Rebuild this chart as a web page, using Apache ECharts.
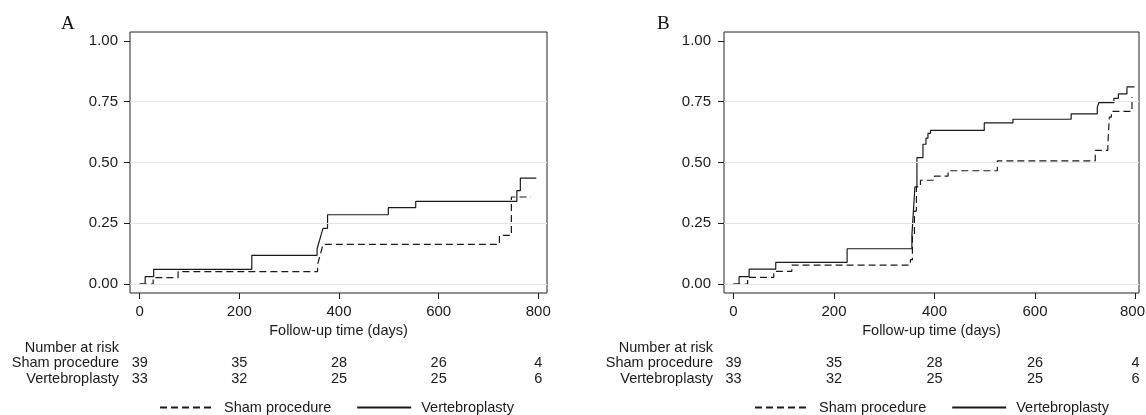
<!DOCTYPE html>
<html><head><meta charset="utf-8">
<script src="https://cdn.jsdelivr.net/npm/echarts@6/dist/echarts.min.js"></script>
<style>html,body{margin:0;padding:0;background:#fff}#c{width:1146px;height:415px}</style>
</head><body><div id="c"></div>
<script>
// ---- data ----
const xTicks = [0, 200, 400, 600, 800];
const yTicks = [0, 0.25, 0.5, 0.75, 1];
const gridLines = [0, 0.25, 0.5, 0.75];
const seriesNames = ['Sham procedure', 'Vertebroplasty'];
const panelLabels = ['A', 'B'];
const xTitle = 'Follow-up time (days)';
const riskTitle = 'Number at risk';

// Panel A (days, cumulative probability)
const shamA = [[0,0],[27,0.026],[77,0.051],[357,0.08],[361,0.11],[365,0.14],[368,0.163],[722,0.20],[746,0.358],[785,0.358]];
const vertA = [[0,0],[11,0.030],[28,0.0606],[225,0.118],[356,0.145],[360,0.173],[364,0.202],[368,0.229],[377,0.285],[499,0.314],[554,0.340],[757,0.384],[764,0.436],[796,0.436]];
const riskShamA = [39, 35, 28, 26, 4];
const riskVertA = [33, 32, 25, 25, 6];

// Panel B
const shamB = [[0,0],[28,0.027],[80,0.052],[116,0.078],[352,0.10],[356,0.20],[360,0.30],[364,0.40],[372,0.427],[400,0.444],[427,0.466],[525,0.507],[720,0.55],[745,0.573],[748,0.687],[752,0.71],[793,0.77]];
const vertB = [[0,0],[11,0.03],[31,0.061],[84,0.089],[226,0.145],[355,0.20],[358,0.30],[361,0.40],[365,0.52],[377,0.575],[383,0.60],[387,0.62],[392,0.632],[499,0.663],[556,0.678],[672,0.70],[724,0.728],[727,0.746],[757,0.764],[766,0.782],[783,0.811],[798,0.811]];
const riskShamB = [39, 35, 28, 26, 4];
const riskVertB = [33, 32, 25, 25, 6];

// ---- layout / style ----
const FONT = '"Liberation Sans", Arial, sans-serif';
const TXT = '#1a1a1a';
const panels = [
  {left: 130, width: 417, xmin: -19.5, xmax: 817.5, sham: shamA, vert: vertA, rS: riskShamA, rV: riskVertA, ym: 12, legLeft: 159, labX: 61, lastPad: 0},
  {left: 724, width: 415, xmin: -19, xmax: 807, sham: shamB, vert: vertB, rS: riskShamB, rV: riskVertB, ym: 13, legLeft: 754, labX: 657, lastPad: 6}
];
const TOP = 32, H = 261;

const grid = [], xAxis = [], yAxis = [], series = [], legend = [], graphic = [];
panels.forEach((p, g) => {
  grid.push({left: p.left, top: TOP, width: p.width, height: H, show: true, borderColor: '#222', borderWidth: 1, backgroundColor: 'transparent', containLabel: false, outerBoundsMode: 'none'});
  const base = {gridIndex: g, type: 'value', min: p.xmin, max: p.xmax, position: 'bottom', splitLine: {show: false}, axisLine: {show: false, onZero: false}};
  const last = xTicks[xTicks.length - 1];
  xAxis.push(Object.assign({}, base, {
    axisTick: {show: true, inside: false, customValues: xTicks, length: 6, lineStyle: {color: TXT, width: 1}},
    axisLabel: {customValues: xTicks, fontSize: 15, fontFamily: FONT, color: TXT, margin: 11,
      formatter: v => (v === last && p.lastPad) ? '{r|' + v + '}' : String(v),
      rich: {r: {fontSize: 15, fontFamily: FONT, color: TXT, padding: [0, p.lastPad, 0, 0]}}},
    name: xTitle, nameLocation: 'middle', nameGap: 27,
    nameTextStyle: {fontSize: 14.5, fontFamily: FONT, color: TXT}
  }));
  xAxis.push(Object.assign({}, base, {
    offset: 55, axisTick: {show: false}, axisLabel: {show: false},
    name: riskTitle, nameLocation: 'start', nameGap: 11,
    nameTextStyle: {fontSize: 14.5, fontFamily: FONT, color: TXT}
  }));
  [[p.rS, seriesNames[0], 70], [p.rV, seriesNames[1], 86]].forEach(([arr, nm, off]) => {
    xAxis.push(Object.assign({}, base, {
      offset: off, axisTick: {show: false},
      axisLabel: {customValues: xTicks, formatter: v => String(arr[xTicks.indexOf(v)]), verticalAlign: 'middle', margin: 0, fontSize: 14.5, fontFamily: FONT, color: TXT},
      name: nm, nameLocation: 'start', nameGap: 11,
      nameTextStyle: {fontSize: 14.5, fontFamily: FONT, color: TXT}
    }));
  });
  yAxis.push({gridIndex: g, type: 'value', min: -0.037, max: 1.037, splitLine: {show: false}, axisLine: {show: false, onZero: false},
    axisTick: {show: true, inside: false, customValues: yTicks, length: 6, lineStyle: {color: TXT, width: 1}},
    axisLabel: {customValues: yTicks, formatter: v => v.toFixed(2), fontSize: 15, fontFamily: FONT, color: TXT, margin: p.ym}
  });
  const xi = g * 4;
  series.push({type: 'line', name: '_grid' + g, xAxisIndex: xi, yAxisIndex: g, data: [], silent: true, z: 1,
    markLine: {silent: true, symbol: 'none', label: {show: false}, lineStyle: {color: '#e4e4e4', width: 1.2, type: 'solid'},
      emphasis: {disabled: true}, animation: false, data: gridLines.map(v => ({yAxis: v}))}});
  series.push({type: 'line', name: seriesNames[0], xAxisIndex: xi, yAxisIndex: g, data: p.sham, step: 'end', symbol: 'none', showSymbol: false, z: 3,
    lineStyle: {color: '#1a1a1a', width: 1.2, type: [7, 4]}, itemStyle: {color: '#1a1a1a'}, animation: false});
  series.push({type: 'line', name: seriesNames[1], xAxisIndex: xi, yAxisIndex: g, data: p.vert, step: 'end', symbol: 'none', showSymbol: false, z: 3,
    lineStyle: {color: '#1a1a1a', width: 1.2, type: 'solid'}, itemStyle: {color: '#1a1a1a'}, animation: false});
  legend.push({data: seriesNames, left: p.legLeft, top: 400, orient: 'horizontal', itemWidth: 54, itemHeight: 14, itemGap: 25, padding: 0,
    selectedMode: false, itemStyle: {opacity: 0, color: 'rgba(0,0,0,0)', borderWidth: 0},
    textStyle: {fontSize: 14.5, fontFamily: FONT, color: TXT, padding: [0, 0, 0, 5]}});
  graphic.push({type: 'text', left: p.labX, top: 15, style: {text: panelLabels[g], font: '19px "Liberation Serif", "Times New Roman", serif', fill: '#111'}});
});

const chart = echarts.init(document.getElementById('c'));
chart.setOption({animation: false, backgroundColor: '#fff', grid, xAxis, yAxis, series, legend, graphic});
</script></body></html>
